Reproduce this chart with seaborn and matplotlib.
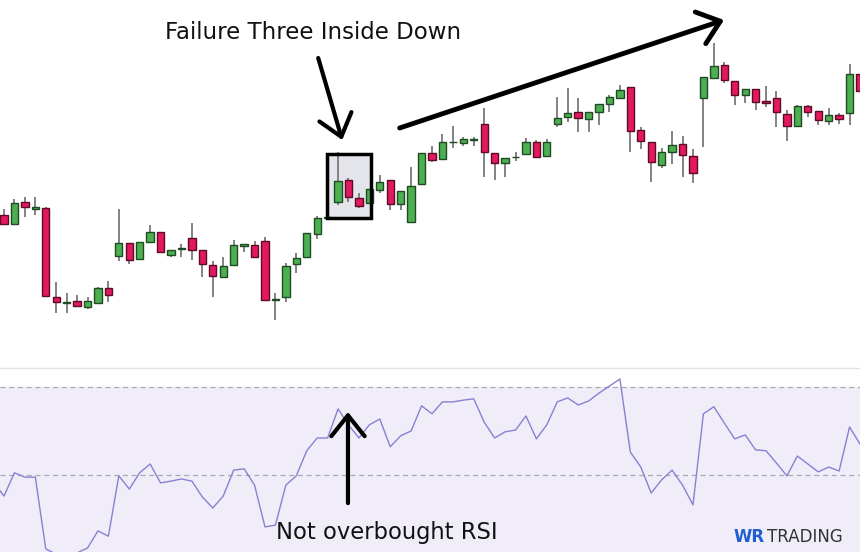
import numpy as np
import pandas as pd
import matplotlib
matplotlib.use('Agg')
import matplotlib.pyplot as plt
import seaborn as sns
from matplotlib.patches import Rectangle

# candles (price units), one per bar, left to right
opens = [18.5, 17.6, 19.8, 19.1, 19.2, 10.3, 9.75, 9.9, 9.3, 9.7,
         11.2, 14.4, 15.7, 14.1, 15.8, 16.8, 14.5, 15.1, 16.2, 15.0,
         13.5, 12.3, 13.5, 15.4, 15.5, 15.9, 10.0, 10.3, 13.6, 14.3,
         16.6, 18.2, 19.8, 22.0, 20.2, 19.7, 21.0, 22.0, 19.6, 17.8,
         21.6, 24.7, 24.1, 25.75, 25.7, 26.0, 27.6, 24.7, 23.7, 24.25,
         24.6, 25.8, 24.4, 27.6, 28.3, 28.8, 28.1, 28.8, 29.6, 30.2,
         31.3, 27.0, 25.8, 23.5, 24.8, 25.6, 24.4, 30.2, 32.2, 33.5,
         31.9, 30.5, 31.1, 29.9, 30.2, 28.6, 27.4, 29.4, 28.9, 27.9,
         28.5, 28.7, 32.6]
highs = [19.1, 20.1, 20.3, 20.3, 19.3, 11.8, 10.7, 10.5, 10.3, 11.3,
         11.9, 19.1, 15.7, 15.8, 17.5, 16.8, 15.0, 15.6, 17.7, 15.0,
         13.9, 14.3, 16.0, 15.6, 15.9, 16.3, 10.7, 13.7, 14.7, 16.7,
         18.4, 18.5, 24.8, 22.2, 20.7, 21.1, 22.5, 22.0, 20.9, 23.3,
         24.7, 25.4, 26.6, 27.4, 26.3, 26.3, 29.2, 24.7, 24.2, 24.8,
         26.2, 26.0, 26.1, 30.3, 31.2, 30.2, 28.8, 29.6, 30.5, 31.5,
         31.3, 27.3, 25.8, 25.2, 26.9, 26.4, 25.1, 32.3, 35.7, 33.8,
         31.9, 31.1, 31.1, 31.4, 30.9, 29.0, 29.5, 29.5, 28.9, 29.2,
         28.7, 33.6, 32.6]
lows = [17.5, 17.5, 18.3, 18.5, 10.3, 8.7, 8.7, 9.3, 9.1, 9.6,
        9.8, 13.9, 13.6, 14.1, 15.8, 14.7, 14.3, 14.3, 14.0, 12.3,
        10.3, 12.3, 13.5, 14.8, 14.3, 10.0, 8.0, 9.8, 12.7, 14.3,
        16.1, 18.0, 19.5, 19.8, 19.2, 19.6, 20.7, 19.0, 19.0, 17.7,
        21.6, 23.8, 24.1, 25.2, 25.4, 25.4, 22.3, 22.0, 22.3, 23.9,
        24.6, 24.3, 24.4, 27.3, 27.8, 26.8, 26.8, 27.5, 28.8, 30.2,
        24.8, 25.1, 21.8, 23.2, 23.6, 22.3, 21.7, 25.3, 32.2, 31.7,
        29.5, 29.7, 29.0, 29.3, 27.3, 25.9, 27.4, 28.3, 27.5, 27.5,
        27.6, 27.5, 30.9]
closes = [17.6, 19.7, 19.3, 19.3, 10.4, 9.8, 9.8, 9.4, 9.9, 11.2,
          10.5, 15.7, 14.0, 15.8, 16.8, 14.8, 15.0, 15.2, 15.0, 13.6,
          12.4, 13.4, 15.5, 15.6, 14.3, 10.0, 10.1, 13.4, 14.2, 16.7,
          18.2, 18.3, 21.9, 20.3, 19.4, 21.1, 21.8, 19.6, 20.9, 21.4,
          24.7, 24.0, 25.8, 25.8, 26.1, 26.05, 24.8, 23.7, 24.2, 24.3,
          25.8, 24.3, 25.8, 28.2, 28.7, 28.2, 28.8, 29.6, 30.3, 31.0,
          26.9, 25.9, 23.8, 24.8, 25.5, 24.5, 22.7, 32.3, 33.4, 32.0,
          30.5, 31.1, 29.8, 29.7, 28.8, 27.4, 29.4, 28.8, 28.0, 28.5,
          28.1, 32.6, 30.9]

# RSI, first value belongs to the bar just left of the visible area
rsi = [48.4, 45.2, 50.5, 49.5, 49.5, 33.2, 32.0, 31.6, 32.3, 33.4,
       37.3, 36.1, 49.8, 46.8, 50.5, 52.5, 48.2, 48.6, 49.1, 48.6,
       45.0, 42.5, 45.2, 51.1, 51.4, 47.7, 38.2, 38.6, 47.7, 49.8,
       55.5, 58.4, 58.4, 65.0, 61.4, 58.4, 61.4, 62.7, 56.4, 58.9,
       60.0, 65.7, 63.9, 66.6, 66.6, 67.0, 67.3, 62.0, 58.4, 59.8,
       60.2, 63.4, 58.2, 61.4, 66.6, 67.5, 65.9, 66.8, 68.6, 70.2,
       71.8, 55.2, 51.8, 45.9, 48.9, 51.1, 47.7, 43.2, 63.9, 65.5,
       61.8, 58.2, 59.1, 55.7, 55.5, 52.7, 49.8, 54.3, 52.5, 50.7,
       51.8, 50.9, 60.9, 57.0]
rsi_bands = [70, 50]

TITLE = 'Failure Three Inside Down'
NOTE = 'Not overbought RSI'

GREEN, GREEN_EDGE = '#4caf50', '#1f4a23'
PINK, PINK_EDGE = '#e3195e', '#5c0a26'
WICK = '#7a7a7a'
RSI_COLOR = '#8a80d2'
BAND = '#f0edf9'

sns.set_theme(style='white')
plt.rcParams['font.family'] = ['DejaVu Sans']

df = pd.DataFrame({'open': opens, 'high': highs, 'low': lows, 'close': closes})
df['idx'] = np.arange(1, len(df) + 1)
df['up'] = df['close'] >= df['open']

fig = plt.figure(figsize=(8.6, 5.52), dpi=100)
ax = fig.add_axes([0, 1 / 3, 1, 2 / 3])
ax_rsi = fig.add_axes([0, 0, 1, 1 / 3])

XLIM = (0.617, 83.0)

# --- candles ---
ax.vlines(df['idx'], df['low'], df['high'], color=WICK, lw=1.3, zorder=2)
body_lo = df[['open', 'close']].min(axis=1)
body_h = (df['close'] - df['open']).abs().clip(lower=0.08)
ax.bar(df['idx'], body_h, bottom=body_lo, width=0.7,
       color=list(np.where(df['up'], GREEN, PINK)),
       edgecolor=list(np.where(df['up'], GREEN_EDGE, PINK_EDGE)),
       linewidth=1, zorder=3)

# pattern box
ax.add_patch(Rectangle((31.9, 18.2), 4.25, 6.4, facecolor='#e4e5ea', edgecolor='none', zorder=1))
ax.add_patch(Rectangle((31.9, 18.2), 4.25, 6.4, facecolor='none', edgecolor='black', lw=2.5, zorder=4))

arrow = dict(arrowstyle='->,head_length=0.75,head_width=0.6', color='black', lw=3,
             mutation_scale=20, shrinkA=0, shrinkB=0)
ax.annotate('', xy=(33.4, 26.0), xytext=(31.1, 34.2), arrowprops=arrow, zorder=5)
ax.annotate('', xy=(69.97, 38.0), xytext=(38.9, 27.2), arrowprops=dict(arrow, lw=3.5), zorder=5)
ax.text(30.6, 36.7, TITLE, ha='center', va='center', fontsize=16.5, color='#111111')

ax.set_xlim(*XLIM)
ax.set_ylim(3.2, 40)
ax.axis('off')

# --- RSI pane ---
ax_rsi.axhspan(30, 70, color=BAND, zorder=0, lw=0)
for b in rsi_bands:
    ax_rsi.axhline(b, color='#a9a9b0', lw=0.9, ls=(0, (4, 3)), zorder=1)
sns.lineplot(x=np.arange(len(rsi)), y=rsi, ax=ax_rsi, color=RSI_COLOR, lw=1, zorder=2)

ax_rsi.annotate('', xy=(33.95, 64.3), xytext=(33.95, 43.6), arrowprops=arrow, zorder=5)
ax_rsi.text(37.7, 37.0, NOTE, ha='center', va='center', fontsize=16.3, color='#111111')

ax_rsi.set_xlim(*XLIM)
ax_rsi.set_ylim(32.5, 74.3)
ax_rsi.set_xticks([])
ax_rsi.set_yticks([])
ax_rsi.set_xlabel('')
ax_rsi.set_ylabel('')
for side in ['left', 'right', 'bottom']:
    ax_rsi.spines[side].set_visible(False)
ax_rsi.spines['top'].set_color('#e3e3e3')
ax_rsi.spines['top'].set_linewidth(1)

# logo
fig.text(765 / 860, 1 - 537 / 552, 'WR', ha='right', va='center', color='#1f5fd0',
         fontsize=12, fontweight='bold')
fig.text(767 / 860, 1 - 537 / 552, 'TRADING', ha='left', va='center', color='#333333', fontsize=12)

fig.savefig('out.png', dpi=100)
plt.close(fig)
